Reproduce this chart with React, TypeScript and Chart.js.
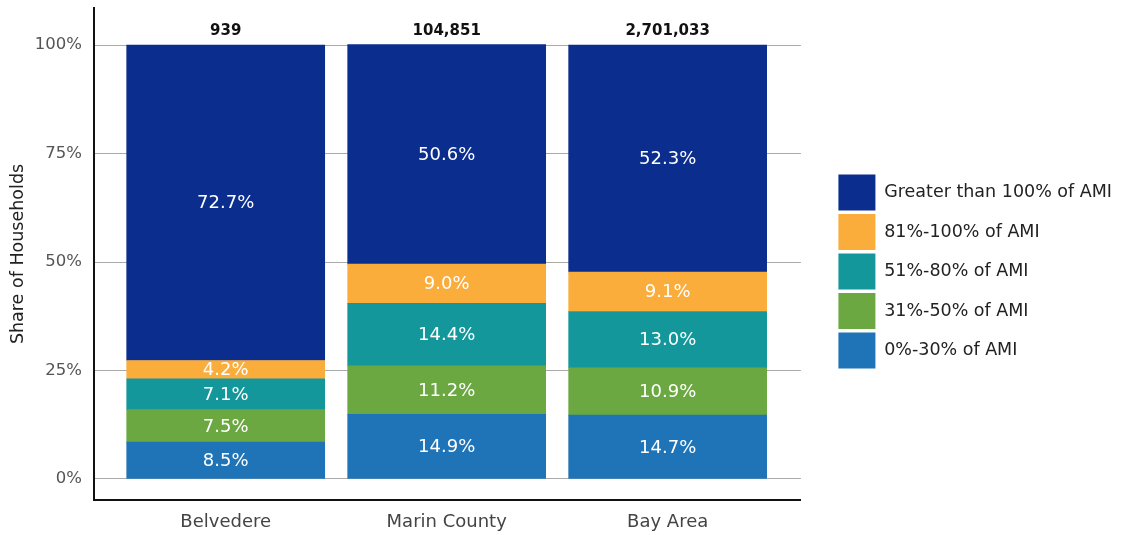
import React, { useEffect, useRef } from "react";
import { Chart, registerables } from "chart.js";

Chart.register(...registerables);

const CATEGORIES = ["Belvedere", "Marin County", "Bay Area"];
const TOTALS = ["939", "104,851", "2,701,033"];
const SERIES_NAMES = [
  "0%-30% of AMI",
  "31%-50% of AMI",
  "51%-80% of AMI",
  "81%-100% of AMI",
  "Greater than 100% of AMI",
];
const AMI_0_30 = [8.5, 14.9, 14.7];
const AMI_31_50 = [7.5, 11.2, 10.9];
const AMI_51_80 = [7.1, 14.4, 13.0];
const AMI_81_100 = [4.2, 9.0, 9.1];
const AMI_100_PLUS = [72.7, 50.6, 52.3];
const COLORS = ["#1f74b8", "#6ba842", "#14979a", "#fbad3c", "#0b2d8e"];
const Y_TICKS = [0, 25, 50, 75, 100];

const FONT = "'DejaVu Sans', sans-serif";

const segmentLabels = {
  id: "segmentLabels",
  afterDatasetsDraw(chart: any) {
    const ctx = chart.ctx;
    ctx.save();
    ctx.fillStyle = "#ffffff";
    ctx.font = `18px ${FONT}`;
    ctx.textAlign = "center";
    ctx.textBaseline = "middle";
    chart.data.datasets.forEach((ds: any, di: number) => {
      const meta = chart.getDatasetMeta(di);
      meta.data.forEach((bar: any, i: number) => {
        const v = ds.data[i].y;
        const cy = (bar.y + bar.base) / 2;
        ctx.fillText(`${v.toFixed(1)}%`, bar.x, cy + 1);
      });
    });
    ctx.restore();
  },
};

const totalLabels = {
  id: "totalLabels",
  afterDatasetsDraw(chart: any) {
    const ctx = chart.ctx;
    const xs = chart.scales.x;
    const ys = chart.scales.y;
    ctx.save();
    ctx.fillStyle = "#111111";
    ctx.font = `bold 15px ${FONT}`;
    ctx.textAlign = "center";
    ctx.textBaseline = "middle";
    TOTALS.forEach((t, i) => {
      ctx.fillText(t, xs.getPixelForValue(i), ys.getPixelForValue(100) - 14);
    });
    ctx.restore();
  },
};

export default function App() {
  const ref = useRef<HTMLCanvasElement | null>(null);
  useEffect(() => {
    if (!ref.current) return;
    const seriesValues = [AMI_0_30, AMI_31_50, AMI_51_80, AMI_81_100, AMI_100_PLUS];
    const chart = new Chart(ref.current, {
      type: "bar",
      data: {
        datasets: seriesValues.map((vals, si) => ({
          label: SERIES_NAMES[si],
          data: vals.map((v, i) => ({ x: i, y: v })),
          backgroundColor: COLORS[si],
          borderWidth: 0,
          barThickness: 198,
        })),
      },
      options: {
        animation: false,
        responsive: true,
        maintainAspectRatio: false,
        layout: { padding: { top: 8, right: 2, bottom: 0, left: 0 } },
        plugins: {
          tooltip: { enabled: false },
          legend: {
            position: "right",
            reverse: true,
            maxWidth: 400,
            labels: {
              boxWidth: 37,
              boxHeight: 36,
              padding: 3.5,
              color: "#222",
              font: { family: FONT, size: 17.5 },
            },
          },
        },
        scales: {
          x: {
            type: "linear",
            stacked: true,
            offset: false,
            min: -0.596,
            max: 2.603,
            afterBuildTicks: (s: any) => {
              s.ticks = CATEGORIES.map((_, i) => ({ value: i }));
            },
            afterFit: (s: any) => {
              s.height = 35;
              s.paddingLeft = 0;
              s.paddingRight = 0;
            },
            grid: { display: false, drawTicks: false },
            border: { display: true, color: "#111", width: 2 },
            ticks: {
              padding: 12,
              color: "#444",
              font: { family: FONT, size: 18 },
              callback: (v: any) => CATEGORIES[v] ?? "",
            },
          },
          y: {
            stacked: true,
            min: -4.839,
            max: 108.53,
            afterBuildTicks: (s: any) => {
              s.ticks = Y_TICKS.map((v) => ({ value: v }));
            },
            afterFit: (s: any) => {
              s.width = 94;
              s.paddingTop = 0;
              s.paddingBottom = 0;
            },
            grid: { color: "#aaaaaa", lineWidth: 1, drawTicks: false },
            border: { display: true, color: "#111", width: 2 },
            ticks: {
              padding: 12,
              color: "#555",
              font: { family: FONT, size: 16.5 },
              callback: (v: any) => `${v}%`,
            },
            title: {
              display: true,
              text: "Share of Households",
              color: "#222",
              font: { family: FONT, size: 17.5 },
              padding: { top: 8, bottom: 0 },
            },
          },
          gap: {
            type: "linear",
            axis: "y",
            position: "right",
            display: true,
            grid: { display: false, drawTicks: false },
            border: { display: false },
            ticks: { display: false },
            afterFit: (s: any) => {
              s.width = 34;
              s.paddingTop = 0;
              s.paddingBottom = 0;
            },
          },
        },
      },
      plugins: [segmentLabels, totalLabels],
    } as any);
    return () => chart.destroy();
  }, []);
  return (
    <div style={{ position: "absolute", left: 0, top: 0, width: 1124, height: 535, background: "#fff" }}>
      <canvas ref={ref} />
    </div>
  );
}
